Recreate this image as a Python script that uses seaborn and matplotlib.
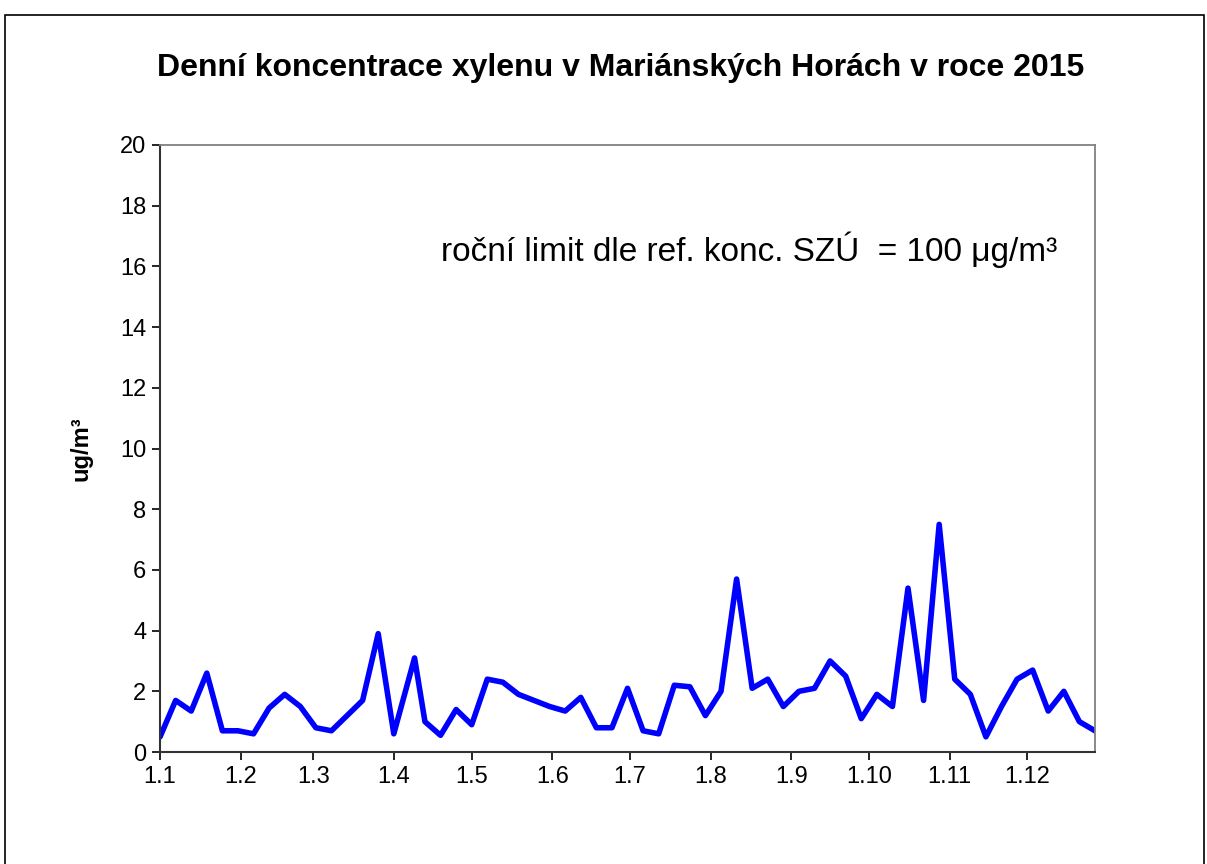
import pandas as pd
import matplotlib
matplotlib.use("Agg")
import matplotlib.pyplot as plt
from matplotlib.patches import Rectangle
import seaborn as sns

# sampling dates (2015) and daily xylene concentrations
dates = ["2015-01-01", "2015-01-07", "2015-01-13", "2015-01-19", "2015-01-25", "2015-01-31",
         "2015-02-06", "2015-02-12", "2015-02-18", "2015-02-24", "2015-03-02", "2015-03-08",
         "2015-03-14", "2015-03-20", "2015-03-26", "2015-04-01", "2015-04-09", "2015-04-13",
         "2015-04-19", "2015-04-25", "2015-05-01", "2015-05-07", "2015-05-13", "2015-05-19",
         "2015-05-25", "2015-05-31", "2015-06-06", "2015-06-12", "2015-06-18", "2015-06-24",
         "2015-06-30", "2015-07-06", "2015-07-12", "2015-07-18", "2015-07-24", "2015-07-30",
         "2015-08-05", "2015-08-11", "2015-08-17", "2015-08-23", "2015-08-29", "2015-09-04",
         "2015-09-10", "2015-09-16", "2015-09-22", "2015-09-28", "2015-10-04", "2015-10-10",
         "2015-10-16", "2015-10-22", "2015-10-28", "2015-11-03", "2015-11-09", "2015-11-15",
         "2015-11-21", "2015-11-27", "2015-12-03", "2015-12-09", "2015-12-15", "2015-12-21",
         "2015-12-27"]
xylene = [0.5, 1.7, 1.35, 2.6, 0.7, 0.7,
          0.6, 1.45, 1.9, 1.5, 0.8, 0.7,
          1.2, 1.7, 3.9, 0.6, 3.1, 1.0,
          0.55, 1.4, 0.9, 2.4, 2.3, 1.9,
          1.7, 1.5, 1.35, 1.8, 0.8, 0.8,
          2.1, 0.7, 0.6, 2.2, 2.15, 1.2,
          2.0, 5.7, 2.1, 2.4, 1.5, 2.0,
          2.1, 3.0, 2.5, 1.1, 1.9, 1.5,
          5.4, 1.7, 7.5, 2.4, 1.9, 0.5,
          1.5, 2.4, 2.7, 1.35, 2.0, 1.0,
          0.7]
month_labels = ["1.1", "1.2", "1.3", "1.4", "1.5", "1.6",
                "1.7", "1.8", "1.9", "1.10", "1.11", "1.12"]
y_ticks = [0, 2, 4, 6, 8, 10, 12, 14, 16, 18, 20]

df = pd.DataFrame({"datum": pd.to_datetime(dates), "xylen": xylene})

sns.set_style("white")
plt.rcParams["font.family"] = ["Liberation Sans", "DejaVu Sans"]
plt.rcParams["text.color"] = "black"

fig = plt.figure(figsize=(12.07, 8.64), dpi=100)
ax = fig.add_axes([0.1326, 0.1296, 0.7746, 0.7026])

sns.lineplot(data=df, x="datum", y="xylen", ax=ax, color="#0000FF", linewidth=4)

# axis ranges and ticks
ax.set_xlim(df["datum"].min(), df["datum"].max())
ax.set_ylim(0, 20)
ax.set_yticks(y_ticks)
ax.set_yticklabels([str(v) for v in y_ticks])
month_starts = pd.date_range("2015-01-01", periods=12, freq="MS")
ax.set_xticks(month_starts)
ax.set_xticklabels(month_labels)
ax.tick_params(axis="both", labelsize=17, colors="black", direction="out",
               length=6, width=1.2, left=True, bottom=True, pad=4)

ax.set_xlabel("")
ax.set_ylabel("ug/m³", fontsize=17, fontweight="bold", color="black", labelpad=20)

for side in ["left", "bottom"]:
    ax.spines[side].set_color("#333333")
    ax.spines[side].set_linewidth(1.5)
for side in ["top", "right"]:
    ax.spines[side].set_color("#808080")
    ax.spines[side].set_linewidth(1.3)

ax.text(0.960, 0.827, "roční limit dle ref. konc. SZÚ  = 100 μg/m³",
        transform=ax.transAxes, ha="right", va="center", fontsize=24)

fig.text(0.514, 0.921, "Denní koncentrace xylenu v Mariánských Horách v roce 2015",
         ha="center", va="center", fontsize=23, fontweight="bold")

# outer frame of the chart area
fig.patches.append(Rectangle((5 / 1207, -0.02), 1199 / 1207, 1.02 - 15 / 864,
                             transform=fig.transFigure, fill=False,
                             edgecolor="black", linewidth=1.2))

fig.savefig("out.png", dpi=100)
